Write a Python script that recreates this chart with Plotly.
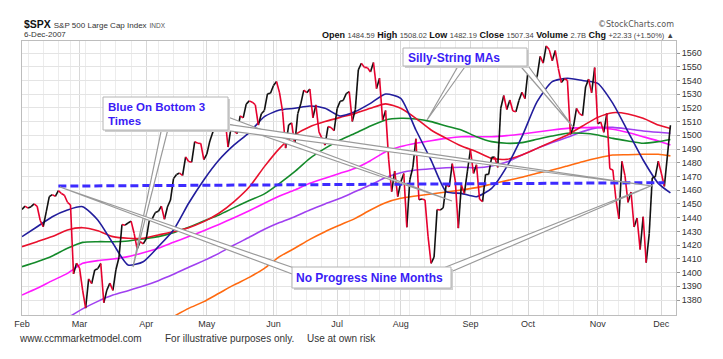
import math
import pandas as pd
import plotly.graph_objects as go

# ---------------- data ----------------
holidays = ["2007-02-19", "2007-04-06", "2007-05-28", "2007-07-04", "2007-09-03", "2007-11-22"]

close_feb = [1445.94, 1448.39, 1446.99, 1448.00, 1450.02, 1448.31, 1438.06, 1433.37, 1444.26, 1455.30,
             1456.81, 1455.54, 1459.68, 1457.63, 1456.38, 1451.19, 1449.37, 1399.04, 1406.82]
close_mar = [1403.17, 1387.17, 1374.12, 1395.41, 1391.97, 1401.89, 1402.84, 1406.60, 1377.95, 1387.17,
             1392.28, 1386.95, 1402.06, 1410.94, 1435.04, 1434.54, 1436.11, 1437.50, 1428.61, 1417.23,
             1422.53, 1420.86]
close_apr = [1424.55, 1437.77, 1439.37, 1443.76, 1444.61, 1448.39, 1438.87, 1447.80, 1452.85, 1468.47,
             1471.48, 1472.50, 1470.73, 1484.35, 1480.93, 1480.41, 1495.42, 1494.25, 1494.07, 1482.37]
close_may = [1486.30, 1495.92, 1502.39, 1505.62, 1509.48, 1507.72, 1512.58, 1491.47, 1505.85, 1503.15,
             1501.19, 1514.14, 1512.75, 1522.75, 1525.10, 1524.12, 1522.28, 1507.51, 1515.73, 1518.11,
             1530.23, 1530.62]
close_jun = [1536.34, 1539.18, 1530.95, 1517.38, 1490.72, 1507.67, 1509.12, 1493.00, 1515.67, 1522.97,
             1532.91, 1531.05, 1533.70, 1512.84, 1522.19, 1502.56, 1497.74, 1492.89, 1506.34, 1505.71,
             1503.35]
close_jul = [1519.43, 1524.87, 1525.40, 1530.44, 1531.85, 1510.12, 1518.76, 1547.70, 1552.50, 1549.52,
             1549.37, 1546.17, 1553.08, 1534.10, 1541.57, 1511.04, 1518.09, 1482.66, 1458.95, 1473.91,
             1455.27]
close_aug = [1465.81, 1472.20, 1433.06, 1467.67, 1476.71, 1497.49, 1453.09, 1453.64, 1452.92, 1426.54,
             1406.70, 1411.27, 1445.94, 1445.55, 1447.12, 1464.07, 1462.50, 1479.37, 1466.79, 1432.36,
             1463.76, 1457.64, 1473.99]
close_sep = [1489.42, 1472.29, 1478.55, 1453.55, 1451.70, 1471.49, 1471.56, 1483.95, 1484.25, 1476.65,
             1519.78, 1529.03, 1518.75, 1525.75, 1517.73, 1517.21, 1525.42, 1531.38, 1526.75]
close_oct = [1547.04, 1546.63, 1539.59, 1542.84, 1557.59, 1552.58, 1565.15, 1562.47, 1554.41, 1561.80,
             1548.71, 1538.53, 1541.24, 1540.08, 1500.63, 1506.33, 1519.59, 1515.88, 1514.40, 1535.28,
             1540.98, 1531.02, 1549.38]
close_nov = [1508.44, 1509.65, 1502.17, 1515.88, 1475.62, 1474.77, 1453.70, 1439.18, 1481.05, 1470.58,
             1451.15, 1458.74, 1433.27, 1439.70, 1416.77, 1440.70, 1407.22, 1428.23, 1469.02, 1469.72,
             1481.14]
close_dec = [1472.42, 1462.79, 1485.01, 1507.34]

month_labels = ["Feb", "Mar", "Apr", "May", "Jun", "Jul", "Aug", "Sep", "Oct", "Nov", "Dec"]

# moving averages every 5 sessions (session index)
ma_idx = [0, 5, 10, 15, 20, 25, 30, 35, 40, 45, 50, 55, 60, 65, 70, 75, 80, 85, 90, 95, 100, 105,
          110, 115, 120, 125, 130, 135, 140, 145, 150, 155, 160, 165, 170, 175, 180, 185, 190, 195,
          200, 205, 210, 214]
ma_blue = [1426.2, 1433.4, 1440.7, 1445.6, 1448.0, 1438.3, 1421.3, 1405.5, 1407.9, 1418.9, 1431.0,
           1450.5, 1467.5, 1482.0, 1493.0, 1502.0, 1513.6, 1518.5, 1519.7, 1521.4, 1519.7, 1514.1,
           1517.3, 1523.3, 1530.1, 1527.0, 1503.9, 1482.0, 1459.0, 1457.7, 1455.3, 1461.4, 1477.2,
           1499.0, 1524.6, 1539.1, 1541.6, 1539.9, 1537.9, 1523.3, 1502.7, 1482.0, 1465.0, 1458.0]
ma_red = [1418.9, 1422.5, 1426.2, 1431.0, 1432.7, 1430.5, 1426.2, 1425.0, 1425.0, 1427.4, 1429.8,
          1432.7, 1437.1, 1443.2, 1451.7, 1462.3, 1477.2, 1490.5, 1500.3, 1506.3, 1510.0, 1513.1,
          1516.0, 1519.7, 1522.9, 1519.7, 1512.4, 1503.9, 1497.8, 1492.2, 1488.1, 1483.2, 1482.5,
          1485.7, 1490.5, 1495.4, 1500.3, 1506.8, 1513.1, 1516.5, 1515.6, 1512.4, 1507.5, 1505.0]
ma_green = [1404.3, 1407.9, 1412.1, 1417.7, 1422.0, 1422.5, 1422.5, 1423.0, 1424.5, 1426.2, 1429.1,
            1433.0, 1437.6, 1442.0, 1447.3, 1452.5, 1457.3, 1465.0, 1473.5, 1483.2, 1490.5, 1496.6,
            1501.5, 1506.8, 1511.2, 1512.4, 1511.9, 1510.0, 1506.8, 1503.9, 1499.0, 1495.4, 1494.2,
            1494.7, 1497.1, 1499.5, 1501.5, 1501.5, 1500.3, 1497.8, 1495.9, 1494.2, 1495.4, 1497.0]
ma_magenta = [1383.6, 1388.5, 1394.1, 1399.4, 1406.7, 1408.7, 1409.9, 1411.6, 1414.5, 1417.7, 1422.0,
              1426.2, 1430.5, 1435.1, 1440.0, 1445.1, 1450.5, 1455.8, 1460.2, 1465.0, 1468.7, 1472.3,
              1476.0, 1481.5, 1488.1, 1491.8, 1494.2, 1496.1, 1497.8, 1499.0, 1499.0, 1499.0, 1499.8,
              1501.0, 1502.4, 1503.9, 1505.1, 1505.6, 1505.8, 1504.4, 1502.0, 1499.0, 1495.9, 1493.0]
ma_purple = [1352.0, 1357.0, 1362.0, 1367.0, 1373.5, 1379.0, 1383.6, 1386.8, 1390.2, 1394.1, 1398.7,
             1403.8, 1408.7, 1414.0, 1420.1, 1425.7, 1431.5, 1436.4, 1440.7, 1445.6, 1450.0, 1454.1,
             1459.0, 1463.8, 1469.2, 1472.8, 1474.7, 1475.7, 1476.4, 1476.7, 1476.4, 1477.7, 1480.6,
             1485.7, 1490.5, 1494.7, 1498.6, 1502.7, 1505.6, 1505.8, 1504.6, 1503.2, 1502.2, 1501.5]
ma_orange = [None, None, None, None, None, None, None, None, 1356.0, 1362.0, 1368.0,
             1373.9, 1378.8, 1384.9, 1391.0, 1396.5, 1403.1, 1411.6, 1417.7, 1424.2, 1429.8, 1434.7,
             1439.5, 1445.6, 1450.9, 1454.1, 1455.8, 1457.3, 1458.7, 1460.2, 1461.9, 1464.5, 1467.0,
             1469.4, 1472.3, 1474.7, 1477.7, 1480.8, 1483.5, 1485.7, 1485.9, 1486.2, 1486.2, 1485.0]

# horizontal reference (dashed) from the February high
ref_idx = [12, 212]
ref_val = [1463.0, 1465.5]

closes = (close_feb + close_mar + close_apr + close_may + close_jun + close_jul + close_aug
          + close_sep + close_oct + close_nov + close_dec)
dates = [d for d in pd.bdate_range("2007-02-01", "2007-12-06") if d.strftime("%Y-%m-%d") not in holidays]
n = len(closes)
dates = dates[:n]

month_pos = [i for i in range(n) if i == 0 or dates[i].month != dates[i - 1].month]
week_pos = [i for i in range(n) if i == 0 or dates[i].weekday() < dates[i - 1].weekday()]

# up / down colouring of the close line
up_x, up_y, dn_x, dn_y = [], [], [], []
for i in range(1, n):
    if closes[i] >= closes[i - 1]:
        up_x += [i - 1, i, None]; up_y += [closes[i - 1], closes[i], None]
    else:
        dn_x += [i - 1, i, None]; dn_y += [closes[i - 1], closes[i], None]

# ---------------- figure ----------------
W, H = 723, 359
L, R, T, B = 22, 676, 41, 315
FONT = "Liberation Sans, Arial, sans-serif"
TXT = "#3a1cf5"

fig = go.Figure()

def ma_trace(vals, color, width=1.6):
    fig.add_trace(go.Scatter(x=ma_idx, y=vals, mode="lines",
                             line=dict(color=color, width=width, shape="spline", smoothing=0.6),
                             connectgaps=False, hoverinfo="skip", showlegend=False))

ma_trace(ma_orange, "#ff6a10")
ma_trace(ma_purple, "#a040f0")
ma_trace(ma_magenta, "#ff1aff")
ma_trace(ma_green, "#148a2a")
ma_trace(ma_red, "#e8112d")
ma_trace(ma_blue, "#221d9c")

fig.add_trace(go.Scatter(x=up_x, y=up_y, mode="lines", line=dict(color="#111111", width=1.6),
                         hoverinfo="skip", showlegend=False))
fig.add_trace(go.Scatter(x=dn_x, y=dn_y, mode="lines", line=dict(color="#e6002e", width=1.6),
                         hoverinfo="skip", showlegend=False))
fig.add_trace(go.Scatter(x=ref_idx, y=ref_val, mode="lines", line=dict(color="#3d2bff", width=3, dash="8px,4px"),
                         hoverinfo="skip", showlegend=False))

def PX(x):
    return (x - L) / (R - L)

def PY(y):
    return (B - y) / (B - T)

shapes = []
annos = []

def wedge(x0, y0, x1, y1, w=3.2):
    dx, dy = x1 - x0, y1 - y0
    d = math.hypot(dx, dy)
    nx, ny = -dy / d * w, dx / d * w
    path = "M {:.4f},{:.4f} L {:.4f},{:.4f} L {:.4f},{:.4f} Z".format(
        PX(x0 + nx), PY(y0 + ny), PX(x1), PY(y1), PX(x0 - nx), PY(y0 - ny))
    shapes.append(dict(type="path", xref="paper", yref="paper", path=path,
                       fillcolor="white", line=dict(color="#9a9a9a", width=1.2), layer="above"))

def box(x0, y0, x1, y1):
    shapes.append(dict(type="rect", xref="paper", yref="paper", x0=PX(x0 + 2), x1=PX(x1 + 2), y0=PY(y1 + 2), y1=PY(y0 + 2),
                       fillcolor="#cfcfcf", line=dict(width=0), layer="above"))
    shapes.append(dict(type="rect", xref="paper", yref="paper", x0=PX(x0), x1=PX(x1), y0=PY(y1), y1=PY(y0),
                       fillcolor="white", line=dict(color="#b4b4b4", width=1), layer="above"))

def label(x, y, text, size=12, color=TXT, bold=True, anchor="left", family=FONT):
    annos.append(dict(xref="paper", yref="paper", x=PX(x), y=PY(y), text=("<b>%s</b>" % text) if bold else text,
                      showarrow=False, xanchor=anchor, yanchor="middle",
                      font=dict(size=size, color=color, family=family)))

# callout pointers
wedge(165, 128, 133, 267)
wedge(224, 119, 452, 201)
wedge(224, 127, 652, 186)
wedge(463, 64, 427, 120)
wedge(522, 63, 573, 127)
wedge(296, 272, 60, 187)
wedge(447, 270, 653, 185)

# callout boxes
box(103, 97, 228, 130)
box(403, 48, 527, 66)
box(292, 267, 451, 288)

label(106, 107, "Blue On Bottom 3", size=11.5)
label(106, 121, "Times", size=11.5)
label(406, 57.5, "Silly-String MAs")
label(294, 278, "No Progress Nine Months")

# header
annos.append(dict(xref="paper", yref="paper", x=PX(22), y=PY(23.5), xanchor="left", yanchor="middle", showarrow=False,
                  text="<b>$SPX</b> <span style='font-size:8px;color:#333'>S&amp;P 500 Large Cap Index</span> "
                       "<span style='font-size:6.5px;color:#555'>INDX</span>",
                  font=dict(size=10.5, color="#111", family=FONT)))
annos.append(dict(xref="paper", yref="paper", x=PX(22), y=PY(34.5), xanchor="left", yanchor="middle", showarrow=False,
                  text="6-Dec-2007", font=dict(size=8, color="#333", family=FONT)))
vs = "<span style='font-size:7.5px;color:#444'>%s</span>"
annos.append(dict(xref="paper", yref="paper", x=PX(676), y=PY(34.5), xanchor="right", yanchor="middle", showarrow=False,
                  text="<b>Open</b> " + vs % "1484.59" + " <b>High</b> " + vs % "1508.02" + " <b>Low</b> " + vs % "1482.19"
                       + " <b>Close</b> " + vs % "1507.34" + " <b>Volume</b> " + vs % "2.7B" + " <b>Chg</b> "
                       + vs % "+22.33 (+1.50%) \u25b2",
                  font=dict(size=9, color="#111", family=FONT)))
annos.append(dict(xref="paper", yref="paper", x=PX(676), y=PY(24.5), xanchor="right", yanchor="middle", showarrow=False,
                  text="\u00a9StockCharts.com", font=dict(size=8, color="#555", family="DejaVu Sans, sans-serif")))

# footer
label(17, 338, "www.ccmmarketmodel.com", size=10, color="#333", bold=False)
label(163, 338, "For illustrative purposes only.", size=10, color="#333", bold=False)
label(305, 338, "Use at own risk", size=10, color="#333", bold=False)

ymin = 1560 - (B - 53) / 1.3722
ymax = 1560 + (53 - T) / 1.3722
xmax = (R - L) / 3.03

fig.update_layout(
    width=W, height=H, margin=dict(l=L, r=W - R, t=T, b=H - B),
    paper_bgcolor="white", plot_bgcolor="white", showlegend=False,
    shapes=shapes, annotations=annos,
    xaxis=dict(range=[0, xmax], tickmode="array", tickvals=month_pos, ticktext=month_labels,
               showgrid=True, gridcolor="#d8d8d8", gridwidth=1, zeroline=False,
               showline=True, linecolor="#bdbdbd", mirror=True, ticks="",
               tickfont=dict(size=9, color="#333", family=FONT),
               minor=dict(tickmode="array", tickvals=week_pos, showgrid=True, gridcolor="#ececec", ticks="")),
    yaxis=dict(range=[ymin, ymax], side="right", tickmode="array", tickvals=list(range(1380, 1561, 10)),
               showgrid=True, gridcolor="#e4e4e4", zeroline=False,
               showline=True, linecolor="#bdbdbd", mirror=True, ticks="outside", ticklen=3, tickcolor="#999",
               tickfont=dict(size=9, color="#333", family=FONT)),
)

fig.write_html("out.html", config={"displayModeBar": False},
               post_script="document.body.style.margin='0';document.body.style.overflow='hidden';")
